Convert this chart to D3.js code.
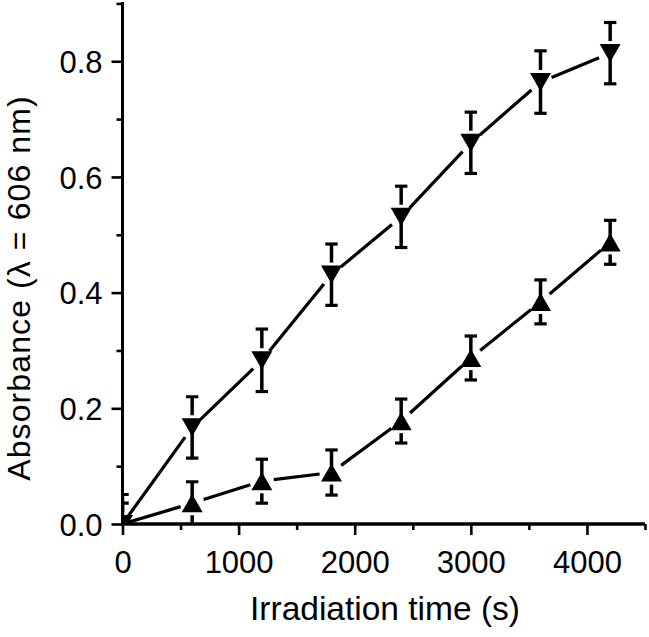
<!DOCTYPE html>
<html>
<head>
<meta charset="utf-8">
<script src="https://cdn.jsdelivr.net/npm/d3@7"></script>
<style>
  html, body { margin: 0; padding: 0; background: #fff; }
  svg { display: block; }
  text { font-family: "Liberation Sans", Arial, sans-serif; fill: #000; }
</style>
</head>
<body>
<svg id="chart" width="649" height="637"></svg>
<script>
// ---- data ----
const times = [0, 600, 1200, 1800, 2400, 3000, 3600, 4200];
const downValues = [0, 0.167, 0.283, 0.431, 0.531, 0.659, 0.764, 0.814];
const downErrors = [0.051, 0.053, 0.054, 0.053, 0.053, 0.053, 0.054, 0.053];
const upValues = [0, 0.036, 0.074, 0.089, 0.178, 0.287, 0.384, 0.487];
const upErrors = [0.036, 0.037, 0.038, 0.039, 0.038, 0.038, 0.038, 0.038];
const xMajorTicks = [0, 1000, 2000, 3000, 4000];
const xMinorTicks = [500, 1500, 2500, 3500, 4500];
const yMajorTicks = [0, 0.2, 0.4, 0.6, 0.8];
const yMinorTicks = [0.1, 0.3, 0.5, 0.7, 0.9];
const xTitle = "Irradiation time (s)";
const yTitle = "Absorbance (\u03BB = 606 nm)";

// ---- layout ----
const svg = d3.select("#chart");
const pLeft = 122.5, pRight = 645, pTop = 3.4, pBottom = 524;
const x = d3.scaleLinear().domain([0, 4500]).range([pLeft, pRight]);
const y = d3.scaleLinear().domain([0, 0.9]).range([pBottom, pTop]);

svg.append("defs").append("clipPath").attr("id", "plotclip")
  .append("rect").attr("x", pLeft).attr("y", pTop - 20)
  .attr("width", pRight - pLeft + 10).attr("height", pBottom - pTop + 20);

const plot = svg.append("g").attr("clip-path", "url(#plotclip)");

const series = [
  { values: downValues, errors: downErrors, dir: -1 },
  { values: upValues, errors: upErrors, dir: 1 }
];

const side = 21, h = side * Math.sqrt(3) / 2;
function triPath(dir) {
  if (dir === 1) return `M0,${-h/2} L${side/2},${h/2} L${-side/2},${h/2} Z`;
  return `M0,${h/2} L${side/2},${-h/2} L${-side/2},${-h/2} Z`;
}

const gap = 12;
series.forEach(s => {
  const pts = times.map((t, i) => ({ t, v: s.values[i], e: s.errors[i] }));
  for (let i = 0; i < pts.length - 1; i++) {
    const x1 = x(pts[i].t), y1 = y(pts[i].v), x2 = x(pts[i+1].t), y2 = y(pts[i+1].v);
    const dx = x2 - x1, dy = y2 - y1, L = Math.hypot(dx, dy);
    const ux = dx / L, uy = dy / L;
    const g0 = i === 0 ? 4 : gap;
    plot.append("line")
      .attr("x1", x1 + ux * g0).attr("y1", y1 + uy * g0)
      .attr("x2", x2 - ux * gap).attr("y2", y2 - uy * gap)
      .attr("stroke", "#000").attr("stroke-width", 3.2);
  }
  pts.forEach(p => {
    const cx = x(p.t), cy = y(p.v);
    const yTop = y(p.v + p.e), yBot = y(p.v - p.e);
    const topStart = s.dir === 1 ? cy : cy - h/2 - 3;
    const botStart = s.dir === 1 ? cy + h/2 + 3 : cy;
    plot.append("line").attr("x1", cx).attr("x2", cx).attr("y1", topStart).attr("y2", yTop)
      .attr("stroke", "#000").attr("stroke-width", 3.5);
    plot.append("line").attr("x1", cx).attr("x2", cx).attr("y1", botStart).attr("y2", yBot)
      .attr("stroke", "#000").attr("stroke-width", 3.5);
    [yTop, yBot].forEach(yy => {
      plot.append("line").attr("x1", cx - 6.2).attr("x2", cx + 6.2).attr("y1", yy).attr("y2", yy)
        .attr("stroke", "#000").attr("stroke-width", 3.2);
    });
    plot.append("path").attr("d", triPath(s.dir))
      .attr("transform", `translate(${cx},${cy})`).attr("fill", "#000");
  });
});

// ---- axes ----
const xAxisG = svg.append("g").attr("transform", `translate(0,${pBottom})`);
xAxisG.call(d3.axisBottom(x).tickValues(xMajorTicks).tickSize(11).tickSizeOuter(0).tickFormat(d3.format("d")));
xAxisG.append("g").call(d3.axisBottom(x).tickValues(xMinorTicks).tickSize(6).tickSizeOuter(0).tickFormat(""));
xAxisG.selectAll(".domain").attr("stroke-width", 3).attr("d", `M${pLeft - 1.5},0H${pRight}`);
xAxisG.selectAll(".tick line").attr("stroke-width", 2.6);
xAxisG.selectAll(".tick text").attr("font-size", 31).attr("y", 48.5).attr("dy", 0)
  .style("font-family", "'Liberation Sans', Arial, sans-serif");

const yAxisG = svg.append("g").attr("transform", `translate(${pLeft},0)`);
yAxisG.call(d3.axisLeft(y).tickValues(yMajorTicks).tickSize(11).tickSizeOuter(0).tickFormat(d3.format(".1f")));
yAxisG.append("g").call(d3.axisLeft(y).tickValues(yMinorTicks).tickSize(6).tickSizeOuter(0).tickFormat(""));
yAxisG.selectAll(".domain").attr("stroke-width", 3).attr("d", `M0,${pBottom + 1.5}V${pTop - 1.5}`);
yAxisG.selectAll(".tick line").attr("stroke-width", 2.6);
yAxisG.selectAll(".tick text").attr("font-size", 31).attr("x", -20).attr("dy", "0.36em")
  .style("font-family", "'Liberation Sans', Arial, sans-serif");

// ---- titles ----
svg.append("text").attr("x", 385).attr("y", 620).attr("text-anchor", "middle")
  .attr("font-size", 33.5).text(xTitle);
svg.append("text").attr("transform", `translate(29.5,288) rotate(-90)`)
  .attr("text-anchor", "middle").attr("font-size", 32).attr("letter-spacing", 1.1).text(yTitle);
</script>
</body>
</html>
